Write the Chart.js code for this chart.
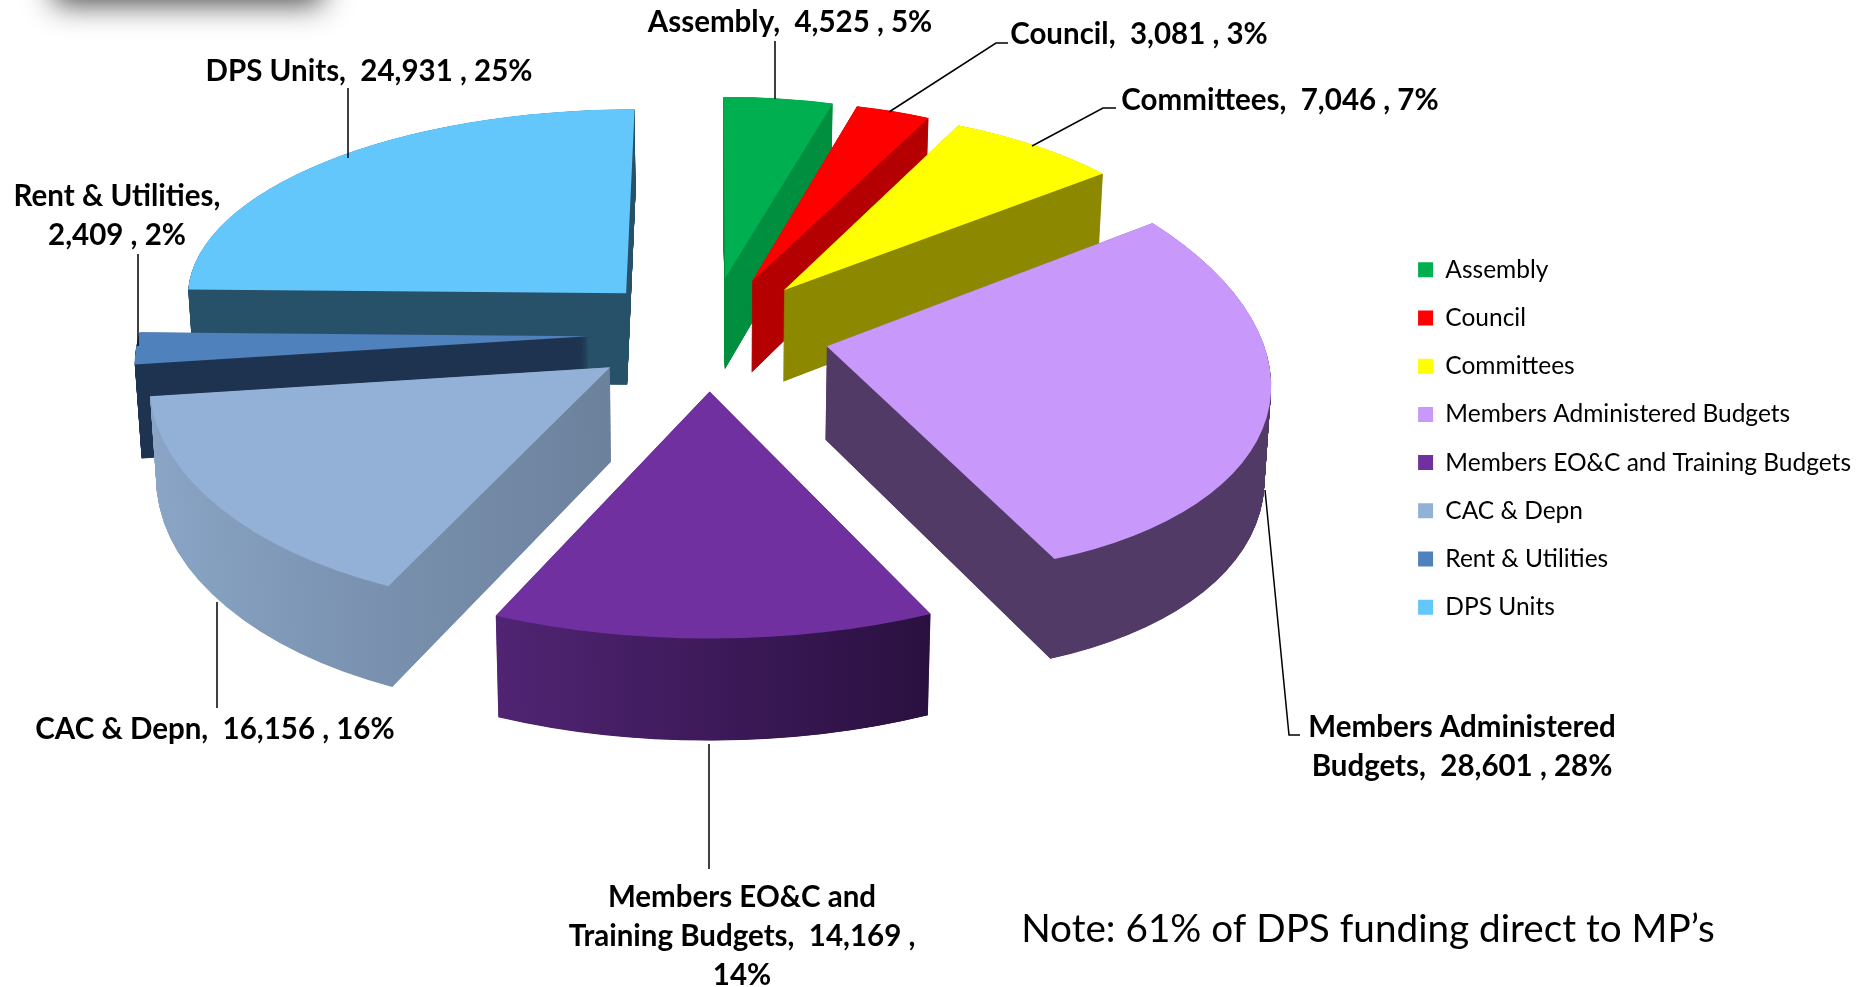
<!DOCTYPE html>
<html>
<head>
<meta charset="utf-8">
<title>DPS funding</title>
<style>
  html, body { margin: 0; padding: 0; background: #fff; }
  canvas { display: block; }
</style>
<script src="https://cdn.jsdelivr.net/npm/chart.js@4"></script>
</head>
<body>
<canvas id="fundingChart" width="1868" height="987"></canvas>
<script>
"use strict";

// data
const categories = ["Assembly", "Council", "Committees", "Members Administered Budgets",
  "Members EO&C and Training Budgets", "CAC & Depn", "Rent & Utilities", "DPS Units"];
const amounts = [4525, 3081, 7046, 28601, 14169, 16156, 2409, 24931];

// callout text, the way it is broken in the picture
const calloutText = [
  ["Assembly,  4,525 , 5%"],
  ["Council,  3,081 , 3%"],
  ["Committees,  7,046 , 7%"],
  ["Members Administered", "Budgets,  28,601 , 28%"],
  ["Members EO&C and", "Training Budgets,  14,169 ,", "14%"],
  ["CAC & Depn,  16,156 , 16%"],
  ["Rent & Utilities,", "2,409 , 2%"],
  ["DPS Units,  24,931 , 25%"]
];
const noteText = "Note: 61% of DPS funding direct to MP\u2019s";

// colours
const topColors = ["#00b050", "#ff0000", "#ffff00", "#c899fb", "#7030a0", "#93b1d7", "#4f81bd", "#63c7fc"];
const wallColors = [
  ["#008f3f", "#008f3f"], ["#b40000", "#b40000"], ["#8c8800", "#8c8800"], ["#513a66", "#513a66"],
  ["#502473", "#2a1040"], ["#8aa5c6", "#6c819c"], ["#1e3350", "#1e3350"], ["#275069", "#275069"]
];

// back slices first, so the front ones cover them
const drawOrder = [0, 1, 2, 7, 6, 5, 3, 4];

// label layout: centre x, first line y
const calloutPos = [[790, 22], [1139, 34], [1280, 100], [1462, 727], [742, 897], [215, 729], [117, 196], [369, 71]];
const calloutLines = [
  [[775, 41], [775, 99]],
  [[1008, 43], [996, 43], [889, 112]],
  [[1116, 108], [1103, 108], [1032, 146]],
  [[1300, 735], [1289, 735], [1265, 490]],
  [[709, 744], [709, 869]],
  [[217, 602], [217, 708]],
  [[138, 254], [138, 346]],
  [[348, 88], [348, 158]]
];

// the fake 3D camera
const pieRadius = 449;
const explode = 120.5;
const centerX = 708.7;
const centerY = 333;
const tilt = 0.472;
const wallHeight = 93;
const wallGrow = 0.00017;
const wallShrink = 0.012;

function project(X, Y, z) {
  // perspective is not the same behind and in front of the centre
  const sx = 1 / (1 - (Y < 0 ? 0.00026 : 0.000226) * Y);
  const sy = 1 / (1 - (Y < 0 ? 0.00024 : 0.000225) * Y);
  return {
    x: centerX + X * sx * (1 - wallShrink * z),
    y: centerY + tilt * Y * sy + z * wallHeight * (1 + wallGrow * Y)
  };
}

// affine that puts an arc element on its place in the camera view, z 0 = top, 1 = bottom
function sliceTransform(arc, z) {
  const mid = (arc.startAngle + arc.endAngle) / 2;
  const ex = explode * Math.cos(mid);
  const ey = explode * Math.sin(mid);
  const ux = arc.outerRadius * Math.cos(arc.startAngle);
  const uy = arc.outerRadius * Math.sin(arc.startAngle);
  const vx = arc.outerRadius * Math.cos(arc.endAngle);
  const vy = arc.outerRadius * Math.sin(arc.endAngle);
  const q0 = project(ex, ey, z);
  const q1 = project(ex + pieRadius * Math.cos(arc.startAngle), ey + pieRadius * Math.sin(arc.startAngle), z);
  const q2 = project(ex + pieRadius * Math.cos(arc.endAngle), ey + pieRadius * Math.sin(arc.endAngle), z);
  const det = ux * vy - uy * vx;
  const a = ((q1.x - q0.x) * vy - (q2.x - q0.x) * uy) / det;
  const c = ((q2.x - q0.x) * ux - (q1.x - q0.x) * vx) / det;
  const b = ((q1.y - q0.y) * vy - (q2.y - q0.y) * uy) / det;
  const d = ((q2.y - q0.y) * ux - (q1.y - q0.y) * vx) / det;
  return [a, b, c, d, q0.x - a * arc.x - c * arc.y, q0.y - b * arc.x - d * arc.y];
}

function wallFill(ctx, arc, i) {
  const xs = [0, Math.cos(arc.startAngle), Math.cos(arc.endAngle)].map(v => arc.x + v * arc.outerRadius);
  const g = ctx.createLinearGradient(Math.min(...xs), 0, Math.max(...xs), 0);
  g.addColorStop(0, wallColors[i][0]);
  g.addColorStop(1, wallColors[i][1]);
  return g;
}

const pie3d = {
  id: "pie3d",
  beforeDatasetDraw(chart, args) {
    const ctx = chart.ctx;
    const arcs = args.meta.data;
    drawOrder.forEach(i => {
      const arc = arcs[i];
      const topOptions = arc.options;
      arc.options = Object.assign({}, topOptions, { backgroundColor: wallFill(ctx, arc, i) });
      for (let step = 300; step > 0; step--) {
        ctx.save();
        ctx.transform(...sliceTransform(arc, step / 300));
        arc.draw(ctx);
        ctx.restore();
      }
      arc.options = topOptions;
      ctx.save();
      ctx.transform(...sliceTransform(arc, 0));
      arc.draw(ctx);
      ctx.restore();
    });
    return false; // slices are done here
  },
  beforeDraw(chart) {
    // leftover shadow of a box above the top edge
    const ctx = chart.ctx;
    ctx.save();
    ctx.shadowColor = "rgba(0,0,0,0.72)";
    ctx.shadowBlur = 30;
    ctx.shadowOffsetX = 3000;
    ctx.fillStyle = "#000";
    ctx.fillRect(54 - 3000, -60, 268, 64);
    ctx.restore();
  },
  afterDraw(chart) {
    const ctx = chart.ctx;
    ctx.save();
    ctx.strokeStyle = "#000";
    ctx.lineWidth = 1.5;
    calloutLines.forEach(pts => {
      ctx.beginPath();
      pts.forEach((p, n) => n ? ctx.lineTo(p[0], p[1]) : ctx.moveTo(p[0], p[1]));
      ctx.stroke();
    });
    ctx.fillStyle = "#000";
    ctx.textAlign = "center";
    ctx.textBaseline = "middle";
    ctx.font = "bold 29.5px Lato";
    calloutText.forEach((lines, i) => {
      lines.forEach((line, n) => ctx.fillText(line, calloutPos[i][0], calloutPos[i][1] + n * 39));
    });
    ctx.font = "38.7px Lato";
    ctx.fillText(noteText, 1368, 930);
    ctx.restore();
  }
};

new Chart(document.getElementById("fundingChart"), {
  type: "pie",
  data: {
    labels: categories,
    datasets: [{
      data: amounts,
      backgroundColor: topColors,
      borderWidth: 0
    }]
  },
  plugins: [pie3d],
  options: {
    responsive: false,
    animation: false,
    events: [],
    radius: pieRadius,
    layout: { padding: { right: 7, bottom: 110 } },
    plugins: {
      tooltip: { enabled: false },
      legend: {
        position: "right",
        labels: {
          boxWidth: 15,
          boxHeight: 15,
          padding: 23.7,
          color: "#000",
          font: { family: "Lato", size: 24.5 }
        }
      }
    }
  }
});
</script>
</body>
</html>
